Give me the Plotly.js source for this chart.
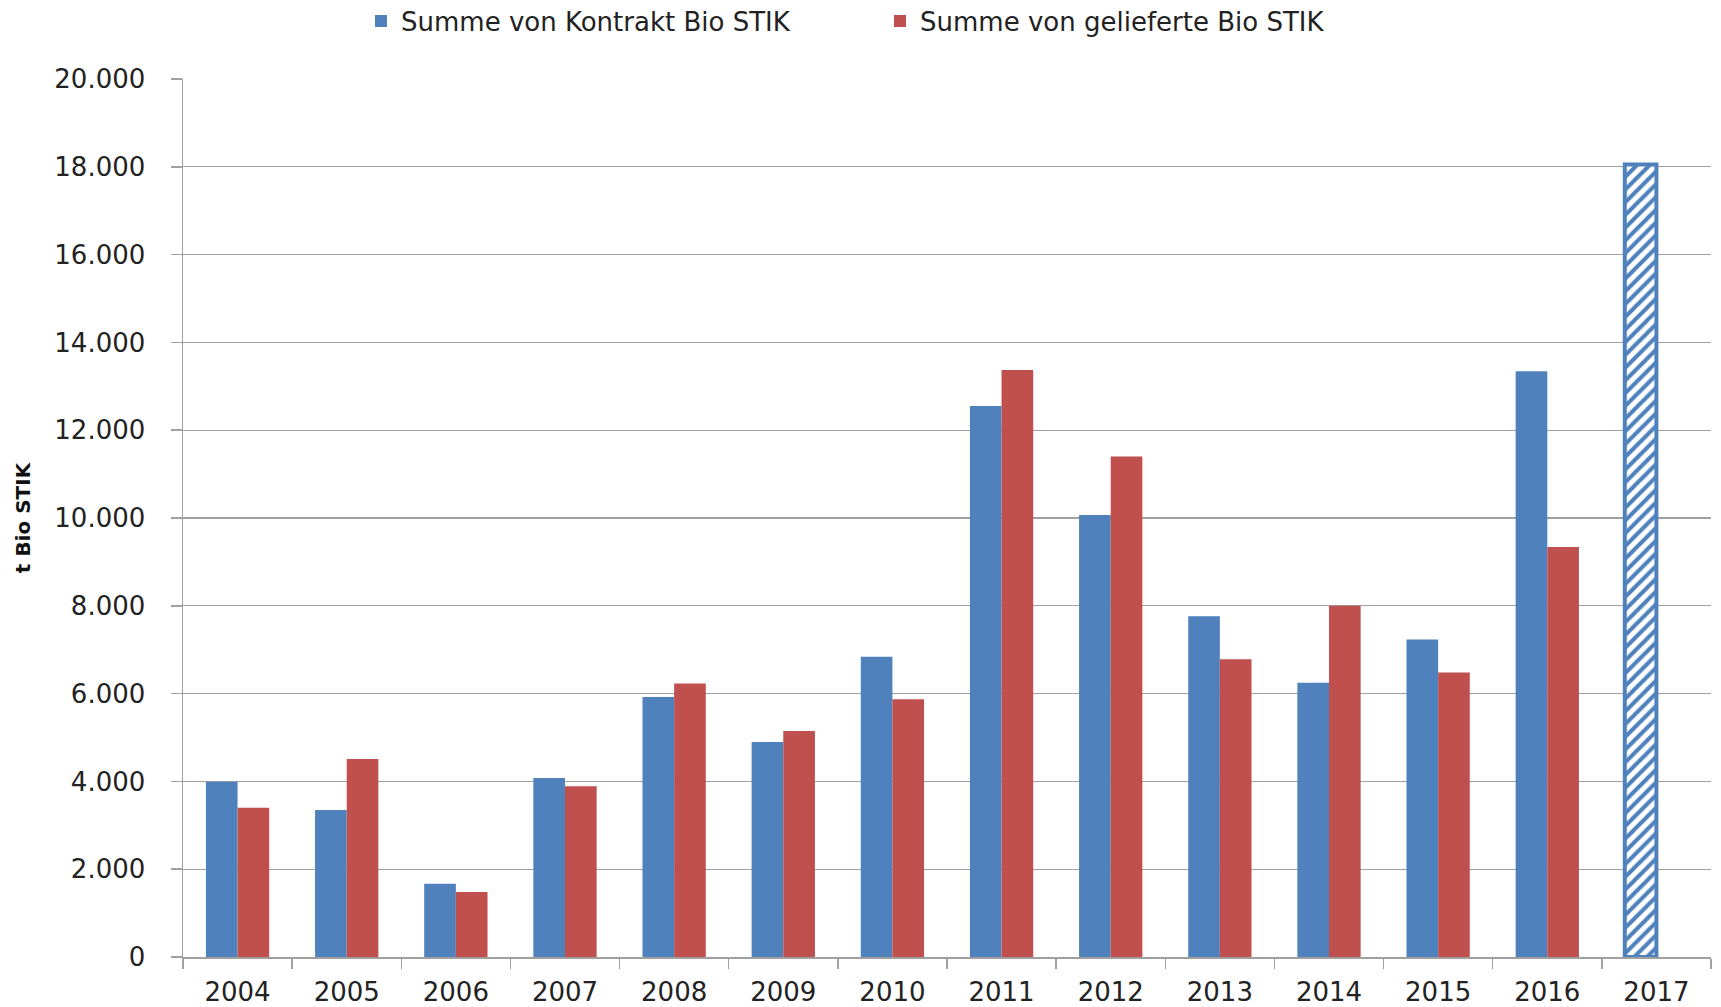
<!DOCTYPE html>
<html>
<head>
<meta charset="utf-8">
<script src="https://cdn.plot.ly/plotly-3.0.1.min.js"></script>
<style>html,body{margin:0;padding:0;background:#fff;}#chart{width:1721px;height:1007px;}</style>
</head>
<body>
<div id="chart"></div>
<script>
const years = ["2004","2005","2006","2007","2008","2009","2010","2011","2012","2013","2014","2015","2016","2017"];
const kontrakt = [3990, 3350, 1670, 4080, 5920, 4900, 6840, 12550, 10070, 7760, 6250, 7230, 13340, 18050];
const geliefert = [3400, 4510, 1480, 3890, 6230, 5150, 5870, 13370, 11400, 6780, 8000, 6480, 9340, null];
const nameKontrakt = "Summe von Kontrakt Bio STIK";
const nameGeliefert = "Summe von gelieferte Bio STIK";
const yTitle = "t Bio STIK";
const forecastYear = "2017";

const blue = "#4F81BD", red = "#C0504D";
const isForecast = years.map(y => y === forecastYear);

const traces = [
  {
    type: "bar", name: nameKontrakt, x: years, y: kontrakt, legend: "legend",
    marker: {
      color: blue,
      line: {color: blue, width: isForecast.map(f => f ? 4 : 0)},
      pattern: {shape: isForecast.map(f => f ? "/" : ""), fgcolor: blue, bgcolor: "#ffffff", size: 9, solidity: 0.45}
    }
  },
  {
    type: "bar", name: nameGeliefert, x: years, y: geliefert, legend: "legend2",
    marker: {color: red, line: {width: 0}}
  }
];

const tickFont = {family: "DejaVu Sans", size: 26, color: "#222"};
const legendFont = {family: "DejaVu Sans", size: 26, color: "#222"};

const layout = {
  width: 1721, height: 1007,
  paper_bgcolor: "#fff", plot_bgcolor: "#fff",
  margin: {l: 183, r: 10, t: 79, b: 50},
  separators: ",.",
  barmode: "group", bargap: 0.42, bargroupgap: 0,
  showlegend: true,
  legend: {orientation: "h", xref: "container", yref: "container", x: 361/1721, xanchor: "left", y: 1 - 21/1007, yanchor: "middle", font: legendFont, bgcolor: "rgba(0,0,0,0)"},
  legend2: {orientation: "h", xref: "container", yref: "container", x: 880/1721, xanchor: "left", y: 1 - 21/1007, yanchor: "middle", font: legendFont, bgcolor: "rgba(0,0,0,0)"},
  xaxis: {
    type: "category", tickfont: tickFont, tickson: "boundaries",
    ticks: "outside", ticklen: 10, tickcolor: "#a0a0a0", tickwidth: 1.5,
    showline: true, linecolor: "#a0a0a0", linewidth: 1.5,
    showgrid: false, ticklabelstandoff: 11, automargin: false
  },
  yaxis: {
    range: [0, 20000], dtick: 2000, tick0: 0, tickformat: ",d",
    tickfont: tickFont, ticks: "outside", ticklen: 11, tickcolor: "#a0a0a0", tickwidth: 1.5,
    showline: true, linecolor: "#a0a0a0", linewidth: 1.5,
    showgrid: true, gridcolor: "#a0a0a0", gridwidth: 1.3,
    zeroline: false, ticklabelstandoff: 20, automargin: false,
    title: {text: yTitle, font: {family: "DejaVu Sans", size: 20, color: "#111", weight: "bold"}, standoff: 18}
  }
};

Plotly.newPlot("chart", traces, layout, {displayModeBar: false, staticPlot: true});
</script>
</body>
</html>
